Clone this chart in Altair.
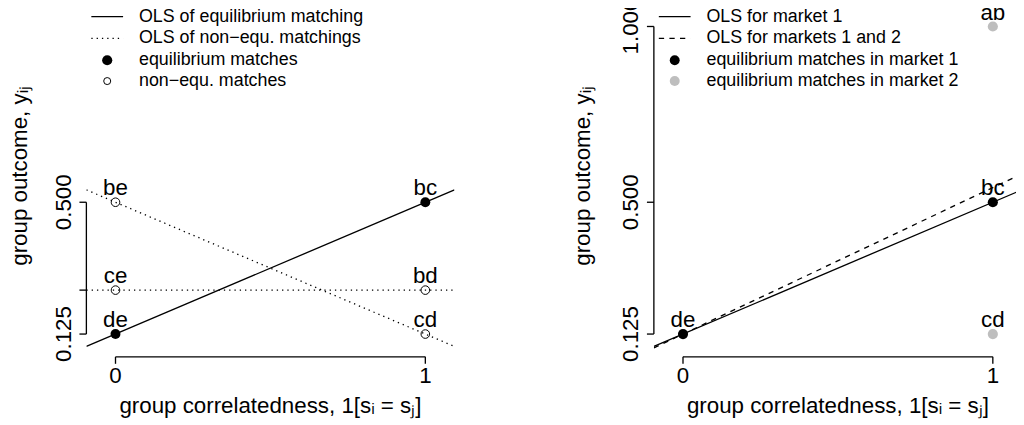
import altair as alt
import pandas as pd

# ---------------- data ----------------
# left panel: all pairings, equilibrium vs non-equilibrium matchings
left_pairs = ["bc", "de", "be", "cd", "ce", "bd"]
left_corr = [1, 0, 0, 1, 0, 1]
left_outcome = [0.5, 0.125, 0.5, 0.125, 0.25, 0.25]
left_type = ["equilibrium", "equilibrium", "non", "non", "non", "non"]
left_matching = ["eq", "eq", "alt1", "alt1", "alt2", "alt2"]

# right panel: equilibrium matches in two markets
right_pairs = ["de", "bc", "ab", "cd"]
right_corr = [0, 1, 1, 1]
right_outcome = [0.125, 0.5, 1.0, 0.125]
right_market = [1, 1, 2, 2]

x_ticks = [0, 1]
x_tick_labels = ["0", "1"]
left_y_ticks = [0.125, 0.25, 0.5]
left_y_tick_labels = ["0.125", "", "0.500"]
right_y_ticks = [0.125, 0.5, 1.0]
right_y_tick_labels = ["0.125", "0.500", "1.000"]

x_title = "group correlatedness, 1[s\u1d62 = s\u2c7c]"
y_title = "group outcome, y\u1d62\u2c7c"

left_legend = ["OLS of equilibrium matching", "OLS of non\u2212equ. matchings",
               "equilibrium matches", "non\u2212equ. matches"]
right_legend = ["OLS for market 1", "OLS for markets 1 and 2",
                "equilibrium matches in market 1", "equilibrium matches in market 2"]

# ---------------- styling / layout ----------------
FONT = "Liberation Sans"
LW = 1.33
GRAY = "#bebebe"
W, H = 371, 365
X_DOMAIN = [-0.094, 1.094]
Y_DOMAIN = [0.0601, 1.0903]
XS = alt.Scale(domain=X_DOMAIN, nice=False, zero=False)
YS = alt.Scale(domain=Y_DOMAIN, nice=False, zero=False)
LAB = 22.5
LEG = 18
LEG_ROWS = [22, 44, 66, 87]

one = pd.DataFrame({"k": [0]})

df_left = pd.DataFrame({"pair": left_pairs, "corr": left_corr, "outcome": left_outcome,
                        "type": left_type, "matching": left_matching})
df_right = pd.DataFrame({"pair": right_pairs, "corr": right_corr, "outcome": right_outcome,
                         "market": right_market})


def X(f):
    return alt.X(f, scale=XS, axis=None)


def Y(f):
    return alt.Y(f, scale=YS, axis=None)


def text_at(txt, x, y, size, angle=0, align="center", baseline="alphabetic"):
    return alt.Chart(one).mark_text(text=txt, font=FONT, fontSize=size, angle=angle,
                                    align=align, baseline=baseline, color="black").encode(
        x=alt.value(x), y=alt.value(y))


def axes(y_ticks, y_labels, title_x):
    xt = pd.DataFrame({"v": x_ticks, "lab": x_tick_labels})
    yt = pd.DataFrame({"v": y_ticks, "lab": y_labels})
    xr = pd.DataFrame({"a": [min(x_ticks)], "b": [max(x_ticks)]})
    yr = pd.DataFrame({"a": [min(y_ticks)], "b": [max(y_ticks)]})
    return [
        alt.Chart(xr).mark_rule(color="black", strokeWidth=LW).encode(
            x=X("a:Q"), x2="b:Q", y=alt.value(H)),
        alt.Chart(xt).mark_rule(color="black", strokeWidth=LW).encode(
            x=X("v:Q"), y=alt.value(H), y2=alt.value(H + 7)),
        alt.Chart(xt).mark_text(font=FONT, fontSize=LAB, baseline="alphabetic", color="black").encode(
            x=X("v:Q"), y=alt.value(H + 26), text="lab:N"),
        alt.Chart(yr).mark_rule(color="black", strokeWidth=LW).encode(
            y=Y("a:Q"), y2="b:Q", x=alt.value(0)),
        alt.Chart(yt).mark_rule(color="black", strokeWidth=LW).encode(
            y=Y("v:Q"), x=alt.value(-7), x2=alt.value(0)),
        alt.Chart(yt).mark_text(font=FONT, fontSize=LAB, angle=270, align="center",
                                baseline="alphabetic", color="black").encode(
            y=Y("v:Q"), x=alt.value(-16), text="lab:N"),
        text_at(x_title, W / 2, H + 56.5, LAB),
        text_at(y_title, title_x, H / 2, LAB, angle=270),
    ]


def legend(labels, line_dashes, point_marks):
    out = []
    for i, dash in enumerate(line_dashes):
        kw = dict(color="black", strokeWidth=LW)
        if dash:
            kw["strokeDash"] = dash
        out.append(alt.Chart(one).mark_rule(**kw).encode(
            x=alt.value(5), x2=alt.value(37), y=alt.value(LEG_ROWS[i])))
    for j, pm in enumerate(point_marks):
        i = len(line_dashes) + j
        out.append(alt.Chart(one).mark_point(shape="circle", **pm).encode(
            x=alt.value(21), y=alt.value(LEG_ROWS[i])))
    for i, lab in enumerate(labels):
        out.append(text_at(lab, 53, LEG_ROWS[i], LEG, align="left", baseline="middle"))
    return out


# ---------------- left panel ----------------
eq_line = alt.Chart(df_left).transform_filter(alt.datum.type == "equilibrium").transform_regression(
    "corr", "outcome", extent=X_DOMAIN).mark_line(color="black", strokeWidth=LW, clip=True).encode(
    x=X("corr:Q"), y=Y("outcome:Q"))
non_lines = alt.Chart(df_left).transform_filter(alt.datum.type == "non").transform_regression(
    "corr", "outcome", extent=X_DOMAIN, groupby=["matching"]).mark_line(
    color="black", strokeWidth=LW, strokeDash=[1.33, 4], clip=True).encode(
    x=X("corr:Q"), y=Y("outcome:Q"), detail="matching:N")
eq_pts = alt.Chart(df_left).transform_filter(alt.datum.type == "equilibrium").mark_point(
    shape="circle", filled=True, size=100, color="black", opacity=1).encode(
    x=X("corr:Q"), y=Y("outcome:Q"))
non_pts = alt.Chart(df_left).transform_filter(alt.datum.type == "non").mark_point(
    shape="circle", filled=False, size=75, color="black", strokeWidth=1, opacity=1).encode(
    x=X("corr:Q"), y=Y("outcome:Q"))
left_labels = alt.Chart(df_left).mark_text(font=FONT, fontSize=LAB, dy=-7, baseline="alphabetic",
                                           color="black").encode(
    x=X("corr:Q"), y=Y("outcome:Q"), text="pair:N")
bound_rule = alt.Chart(one).mark_rule(opacity=0, strokeWidth=1).encode(
    x=alt.value(-86.5), y=alt.value(0), y2=alt.value(428))

left = alt.layer(
    bound_rule, eq_line, non_lines, eq_pts, non_pts, left_labels,
    *axes(left_y_ticks, left_y_tick_labels, -60),
    *legend(left_legend, [None, [1.33, 4]],
            [dict(filled=True, size=105, color="black", opacity=1),
             dict(filled=False, size=50, color="black", strokeWidth=1, opacity=1)]),
).properties(width=W, height=H)

# ---------------- right panel ----------------
m1_line = alt.Chart(df_right).transform_filter(alt.datum.market == 1).transform_regression(
    "corr", "outcome", extent=X_DOMAIN).mark_line(color="black", strokeWidth=LW, clip=True).encode(
    x=X("corr:Q"), y=Y("outcome:Q"))
all_line = alt.Chart(df_right).transform_regression(
    "corr", "outcome", extent=X_DOMAIN).mark_line(
    color="black", strokeWidth=LW, strokeDash=[5.33, 5.33], clip=True).encode(
    x=X("corr:Q"), y=Y("outcome:Q"))
r_pts = alt.Chart(df_right).mark_point(shape="circle", filled=True, size=105, opacity=1).encode(
    x=X("corr:Q"), y=Y("outcome:Q"),
    color=alt.Color("market:N", scale=alt.Scale(domain=[1, 2], range=["black", GRAY]), legend=None))
right_labels = alt.Chart(df_right).mark_text(font=FONT, fontSize=LAB, dy=-7, baseline="alphabetic",
                                             color="black").encode(
    x=X("corr:Q"), y=Y("outcome:Q"), text="pair:N")

right = alt.layer(
    m1_line, all_line, r_pts, right_labels,
    *axes(right_y_ticks, right_y_tick_labels, -64),
    *legend(right_legend, [None, [5.33, 5.33]],
            [dict(filled=True, size=100, color="black", opacity=1),
             dict(filled=True, size=100, color=GRAY, opacity=1)]),
).properties(width=W, height=H)

chart = alt.hconcat(left, right, spacing=201, bounds="flush").properties(
    padding={"left": -8, "top": -15, "right": -6, "bottom": 0}
).configure_view(stroke=None)

chart.save("out.html", embed_options={"renderer": "svg", "actions": False})
